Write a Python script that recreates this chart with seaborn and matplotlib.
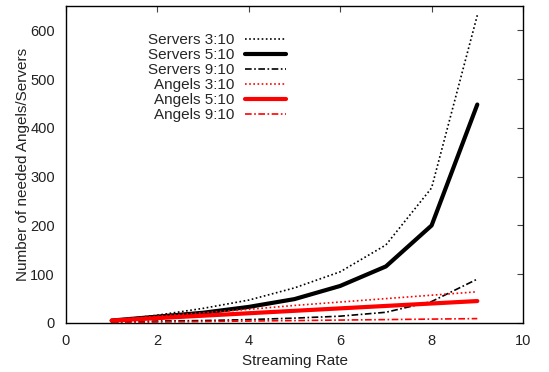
import matplotlib
matplotlib.use("Agg")
import matplotlib.pyplot as plt
import seaborn as sns
import pandas as pd

rate = [1, 2, 3, 4, 5, 6, 7, 8, 9]
servers_3_10 = [5, 16, 30, 47, 72, 105, 160, 277, 631]
servers_5_10 = [5, 13, 21, 33, 49, 76, 116, 200, 448]
servers_9_10 = [2, 4, 5, 7, 10, 14, 22, 44, 90]
angels_3_10 = [7, 14, 21, 28, 36, 43, 50, 57, 64]
angels_5_10 = [5, 10, 15, 20, 25, 30, 35, 40, 45]
angels_9_10 = [1, 2, 3, 4, 5, 6, 7, 8, 9]

series = [
    ("Servers 3:10", servers_3_10, "black", 1.2, (0, (1, 1.5))),
    ("Servers 5:10", servers_5_10, "black", 3.0, "-"),
    ("Servers 9:10", servers_9_10, "black", 1.2, (0, (4, 1.5, 1, 1.5))),
    ("Angels 3:10", angels_3_10, "red", 1.2, (0, (1, 1.5))),
    ("Angels 5:10", angels_5_10, "red", 3.0, "-"),
    ("Angels 9:10", angels_9_10, "red", 1.2, (0, (4, 1.5, 1, 1.5))),
]

sns.set_theme(style="white")
plt.rcParams["font.family"] = ["Liberation Sans", "DejaVu Sans"]

fig = plt.figure(figsize=(5.49, 3.72), dpi=100)
ax = fig.add_axes([66 / 549, 1 - 323 / 372, (523 - 66) / 549, (323 - 6) / 372])

for name, vals, color, lw, ls in series:
    df = pd.DataFrame({"x": rate, "y": vals})
    sns.lineplot(data=df, x="x", y="y", ax=ax, color=color, linewidth=lw,
                 linestyle=ls, label=name)

ax.set_xlim(0, 10)
ax.set_ylim(0, 650)
ax.set_xticks([0, 2, 4, 6, 8, 10])
ax.set_yticks([0, 100, 200, 300, 400, 500, 600])
ax.tick_params(direction="in", length=4.5, width=0.8, color="#444444",
               top=True, right=True, labelsize=10.5, colors="#222222",
               labelcolor="#222222", pad=8)
for s in ax.spines.values():
    s.set_color("black")
    s.set_linewidth(1.0)
ax.set_xlabel("Streaming Rate", fontsize=11, color="#222222", labelpad=4)
ax.set_ylabel("Number of needed Angels/Servers", fontsize=11, color="#222222", labelpad=0)

leg = ax.legend(loc="upper right", bbox_to_anchor=(286 / 549, 1 - 33 / 372),
                bbox_transform=fig.transFigure, frameon=False, markerfirst=False,
                fontsize=11, handlelength=2.7, handletextpad=0.65,
                labelspacing=0.07, borderpad=0, borderaxespad=0)

fig.savefig("out.png", dpi=100)
